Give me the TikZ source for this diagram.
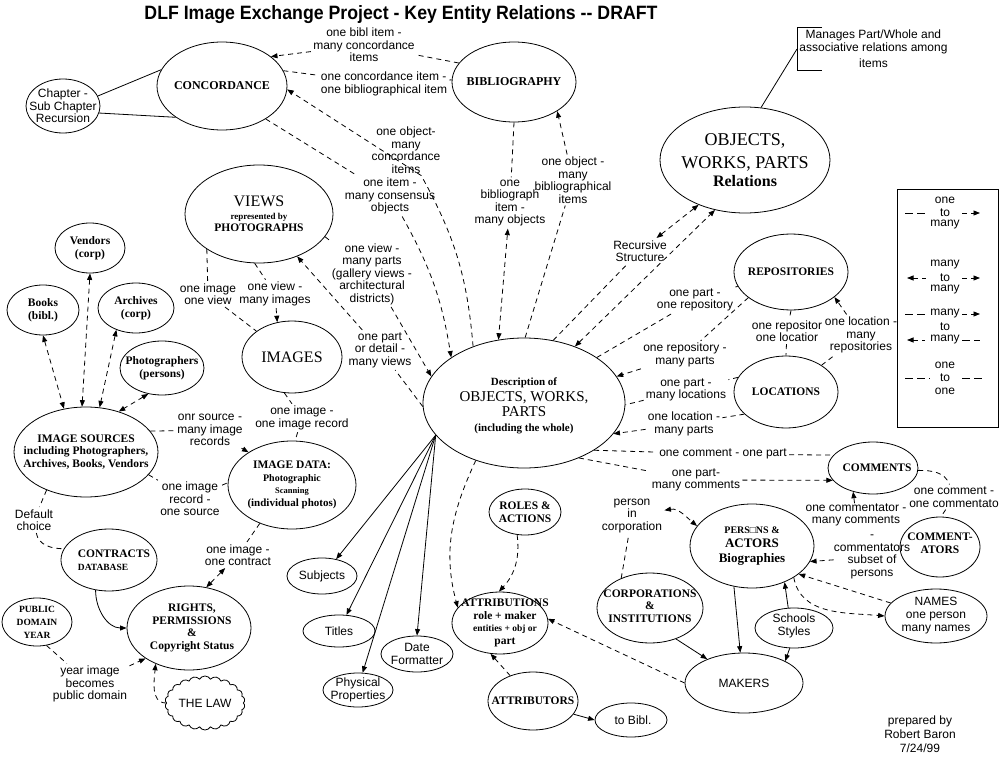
\documentclass[tikz,border=0pt]{standalone}
\usepackage{fontspec}
\setmainfont{Liberation Serif}
\setsansfont{Liberation Sans}
\usepackage{graphicx}
\usetikzlibrary{positioning,arrows.meta,shapes.geometric,shapes.symbols}
\tikzset{
  ent/.style ={ellipse, draw, line width=0.8pt, inner sep=0pt},
  etxt/.style={align=center, inner sep=0pt, font=\fontsize{11.5}{12.5}\selectfont\bfseries},
  stxt/.style={align=center, inner sep=0pt, font=\sffamily\fontsize{12}{12.5}\selectfont},
  lbl/.style ={stxt, inner sep=2pt},
  % dashed relation line; the tips show the "many" side
  dl/.style  ={line width=0.8pt, dash pattern=on 5pt off 4pt},
  >={Triangle[length=6.5pt,width=5pt]},
}
\newcommand{\fsz}[1]{\fontsize{#1}{#1}\selectfont}
% ellipse of fixed size with its text laid over it
\newcommand{\ent}[7][]{%
  \node[ent, minimum width=#5, minimum height=#6] (#2) at (#3,#4) {};
  \node[etxt,#1] (#2-t) at (#2) {#7};}

\begin{document}
\begin{tikzpicture}[x=1pt,y=1pt,line width=0.8pt]
\useasboundingbox (0,0) rectangle (999,-757);
\node (title) at (401,-15)
  {\resizebox{513pt}{14pt}{\sffamily\bfseries DLF Image Exchange Project - Key Entity Relations -{}- DRAFT}};

% entities
\ent{concord}{222}{-86}{130}{88}{\fsz{12}CONCORDANCE}
\ent[stxt]{chapter}{63}{-106}{74}{54}{Chapter -\\Sub Chapter\\Recursion}
\ent{bib}{514}{-82}{124}{80}{\fsz{12}BIBLIOGRAPHY}
\ent{rel}{745}{-160}{170}{106}{\fsz{18}\mdseries OBJECTS,\\[7pt]\fsz{18}\mdseries WORKS, PARTS\\[3pt]\fsz{16}Relations}
\ent{views}{259}{-214}{148}{98}{\fsz{16}\mdseries VIEWS\\\fsz{9}represented by\\\fsz{11.5}PHOTOGRAPHS}
\ent{images}{292}{-357}{100}{72}{\fsz{16}\mdseries IMAGES}
\ent{vendors}{90}{-248}{70}{50}{Vendors\\(corp)}
\ent{books}{43}{-310}{72}{50}{Books\\(bibl.)}
\ent{archives}{136}{-308}{76}{50}{Archives\\(corp)}
\ent{photog}{162}{-368}{84}{54}{Photographers\\(persons)}
\ent{imgsrc}{86}{-452}{144}{90}{IMAGE SOURCES\\including Photographers,\\Archives, Books, Vendors}
\ent{imgdata}{292}{-485}{128}{88}{IMAGE DATA:\\\fsz{10}Photographic\\\fsz{8.5}Scanning\\\fsz{11}(individual photos)}
\ent[align=left,xshift=5]{contracts}{109}{-560}{96}{62}{CONTRACTS\\\fsz{9.5}DATABASE}
\ent[font=\fontsize{9.5}{13}\selectfont\bfseries]{pubdom}{37}{-622}{70}{48}{PUBLIC\\DOMAIN\\YEAR}
\ent[xshift=3]{rights}{189}{-628}{124}{84}{RIGHTS,\\PERMISSIONS\\\&\\Copyright Status}
\node[cloud, draw, cloud puffs=22, cloud puff arc=120, cloud ignores aspect,
      minimum width=80, minimum height=54, inner sep=0pt] (law) at (205,-703) {};
\node[stxt] (law-t) at (law) {THE LAW};
\ent[yshift=-3]{desc}{524}{-403}{202}{130}{\fsz{11}Description of\\[3pt]\fsz{15}\mdseries OBJECTS, WORKS,\\[3pt]\fsz{15}\mdseries PARTS\\[2pt]\fsz{11}(including the whole)}
\ent{repos}{791}{-272}{114}{76}{REPOSITORIES}
\ent{locs}{786}{-392}{104}{72}{LOCATIONS}
\ent[xshift=4]{comments}{873}{-468}{90}{52}{COMMENTS}
\ent[yshift=4]{cmtators}{940}{-547}{80}{60}{COMMENT-\\ATORS}
\ent{persons}{752}{-546}{124}{84}{\fsz{10}PERS□NS \&\\[2pt]\fsz{13}ACTORS\\[2pt]\fsz{13}Biographies}
\ent[yshift=2]{corps}{650}{-608}{106}{70}{CORPORATIONS\\\&\\INSTITUTIONS}
\ent[stxt]{makers}{744}{-683}{118}{60}{MAKERS}
\ent[stxt,yshift=2]{schools}{794}{-628}{78}{40}{Schools\\Styles}
\ent[stxt,font=\sffamily\fontsize{12}{13}\selectfont]{names}{936}{-616}{102}{54}{NAMES\\one person\\many names}
\ent{roles}{525}{-512}{72}{46}{ROLES \&\\ACTIONS}
\ent[xshift=5]{attribs}{500}{-623}{96}{62}{ATTRIBUTIONS\\role + maker\\\fsz{9.5}entities + obj or\\part}
\ent{attribtrs}{533}{-701}{90}{58}{ATTRIBUTORS}
\ent[stxt,xshift=2]{tobibl}{631}{-720}{72}{34}{to Bibl.}
\ent[stxt]{subjects}{322}{-576}{70}{36}{Subjects}
\ent[stxt]{titles}{339}{-631}{72}{32}{Titles}
\ent[stxt]{datef}{417}{-654}{72}{36}{Date\\Formatter}
\ent[stxt]{physprop}{358}{-690}{70}{34}{Physical\\Properties}

% relation labels
\node[lbl] (l1) at (364,-45) {one bibl item -\\many concordance\\items};
\node[lbl,align=left] (l2) at (384,-84) {one concordance item -\\one bibliographical item};
\node[lbl] (l3) at (406,-150) {one object-\\many\\concordance\\items};
\node[lbl] (l4) at (390,-196) {one item -\\many consensus\\objects};
\node[lbl] (l5) at (510,-203) {one\\bibliograph\\item -\\many objects};
\node[lbl] (l6) at (573,-180) {one object -\\many\\bibliographical\\items};
\node[lbl] (l7) at (640,-251) {Recursive\\Structure};
\node[lbl] (l8) at (695,-300) {one part -\\one repository};
\node[lbl] (l9) at (685,-355) {one repository -\\many parts};
\node[lbl] (l10) at (787,-331) {one repositor\\one locatior};
\node[lbl] (l11) at (861,-335) {one location -\\many\\repositories};
\node[lbl] (l12) at (686,-390) {one part -\\many locations};
\node[lbl] (l13) at (684,-424) {one location -\\many parts};
\node[lbl] (l14) at (723,-454) {one comment - one part};
\node[lbl] (l15) at (696,-480) {one part-\\many comments};
\node[lbl] (l16) at (954,-497) {one comment -\\one commentato};
\node[lbl,inner sep=0pt] (l17a) at (856,-515) {one commentator -\\many comments};
\node[lbl,inner sep=0pt] (l17b) at (872,-557) {-\\commentators\\subset of\\persons};
\node[lbl] (l18) at (632,-516) {person\\in\\corporation};
\node[lbl] (l19) at (208,-294) {one image\\one view};
\node[lbl] (l20) at (275,-294) {one view -\\many images};
\node[lbl] (l21) at (372,-274) {one view -\\many parts\\(gallery views -\\architectural\\districts)};
\node[lbl] (l22) at (380,-350) {one part\\or detail -\\many views};
\node[lbl] (l23) at (302,-418) {one image -\\one image record};
\node[lbl] (l24) at (210,-430) {onr source -\\many image\\records};
\node[lbl] (l25) at (190,-499) {one image\\record -\\one source};
\node[lbl] (l26) at (34,-520) {Default\\choice};
\node[lbl] (l27) at (238,-555) {one image -\\one contract};
\node[lbl] (l28) at (90,-684) {year image\\becomes\\public domain};

% concordance and bibliography
\draw (chapter.16) -- (concord.165);
\draw (chapter.349) -- (concord.214);
\draw[dl,->] (bib.161) -- (l1) -- (concord.31);
\draw[dl] (concord.14) -- (l2) -- (bib.178);
\draw[dl,->] (desc.132) to[bend right=12] (l3) -- (concord.357);
\draw[dl,->] (concord.323) -- (l4) to[bend left=10] (desc.148);
\draw[dl,<->] (bib.270) -- (l5) -- (desc.112);
\draw[dl,->] (desc.89) -- (l6) -- (bib.326);

% part/whole relations
\node[stxt, anchor=west, inner xsep=2pt, minimum height=43] (note) at (797,-49)
  {Manages Part/Whole and\\associative relations among\\[4pt]items};
\draw ([xshift=25]note.north west) -- (note.north west) -- (note.south west) -- ([xshift=25]note.south west);
\draw (note.west) -- (rel.73);
\draw[dl,<->] (desc.65) -- (l7) -- (rel.224);
\draw[dl,<->] (desc.48) -- (rel.239);

% repositories and locations
\draw[dl] (desc.32) -- (l8) -- (repos.195);
\draw[dl,->] (repos.211) -- (l9) -- (desc.16);
\draw[dl] (repos.270) -- (l10) -- (locs.90);
\draw[dl,->] (locs.37) -- (l11) -- (repos.330);
\draw[dl] (locs.163) -- (l12) -- (desc.359);
\draw[dl,->] (locs.208) -- (l13) -- (desc.341);

% comments
\draw[dl] (desc.326) -- (l14) -- (comments.162);
\draw[dl,->] (desc.315) -- (l15) -- (comments.197);
\draw[dl] (comments.357) to[out=0,in=110] (l16) -- (cmtators.88);
\draw[dl,->] (l17a) -- (comments.230);
\draw[dl,->] (l17b) -- (persons.345);

% persons, makers, attributions
\draw[dl,<->] (corps.134) -- (l18) to[out=10,in=140] (persons.160);
\draw[->] (persons.246) -- (makers.97);
\draw[->] (schools.106) -- (persons.312);
\draw[->] (schools.258) -- (makers.28);
\draw[->] (corps.310) -- (makers.147);
\draw[dl,->] (names.164) -- (persons.329);
\draw[dl,->] (persons.323) to[out=-80,in=175] (names.180);
\draw[dl,->] (makers.180) -- (attribs.5);
\draw[dl,->] (roles.251) to[bend left=25] (attribs.92);
\draw[dl,->] (desc.230) to[out=245,in=105] (attribs.160);
\draw[dl,->] (attribtrs.132) -- (attribs.253);
\draw[->] (attribtrs.342) -- (tobibl.180);
\coordinate (fan) at (desc.200);
\foreach \t/\a in {subjects/50, titles/65, physprop/75, datef/90}
  \draw[->] (fan) -- (\t.\a);

% views and images
\draw[dl] (views.214) -- (l19) -- (images.144);
\draw[dl,->] (views.265) -- (l20) -- (images.113);
\draw[dl,->] (desc.182) -- (l22) -- (views.312);
\draw[dl,->] (views.341) -- (l21) -- (desc.164);
\draw[dl] (images.258) -- (l23) -- (imgdata.86);

% image sources, contracts, rights
\draw[dl,->] (imgsrc.18) -- (l24) -- (imgdata.143);
\draw[dl] (imgsrc.340) -- (l25) -- (imgdata.178);
\draw[dl] (imgsrc.224) -- (l26) to[out=-80,in=180] (contracts.166);
\foreach \s/\a/\b in {vendors/270/95, books/270/117, archives/228/73, photog/242/51}
  \draw[dl,<->] (\s.\a) -- (imgsrc.\b);
\draw[->] (contracts.246) to[out=-90,in=180] (rights.180);
\draw[dl,<->] (imgdata.230) -- (l27) -- (rights.67);
\draw[dl,->] (pubdom.292) -- (l28) -- (rights.215);
\draw[dl,->] (law.west) to[out=180,in=265] (rights.227);

% legend
\node[draw, minimum width=101, minimum height=238, anchor=north west, inner sep=0pt] (legend) at (897,-189) {};
\foreach \n/\y/\t in {lg1a/200/one, lg1b/213/to, lg1c/225/many,
                      lg2a/265/many, lg2b/278/to, lg2c/290/many,
                      lg3a/314/many, lg3b/327/to, lg3c/340/many,
                      lg4a/365/one, lg4b/378/to, lg4c/391/one}
  \node[stxt] (\n) at (945,-\y) {\t};
\draw[dl,dash pattern=on 8pt off 4pt] ([xshift=-40]lg1b.center) -- ([xshift=-20]lg1b.center);
\draw[dl,->] ([xshift=17]lg1b.center) -- ([xshift=35]lg1b.center);
\draw[dl,<-] ([xshift=-38]lg2b.center) -- ([xshift=-19]lg2b.center);
\draw[dl,->] ([xshift=17]lg2b.center) -- ([xshift=35]lg2b.center);
\draw[dl,dash pattern=on 8pt off 4pt] ([xshift=-40]lg3a.center) -- ([xshift=-20]lg3a.center);
\draw[dl,->] ([xshift=17]lg3a.center) -- ([xshift=35]lg3a.center);
\draw[dl,<-] ([xshift=-38]lg3c.center) -- ([xshift=-20]lg3c.center);
\draw[dl,dash pattern=on 8pt off 4pt] ([xshift=17]lg3c.center) -- ([xshift=35]lg3c.center);
\draw[dl,dash pattern=on 8pt off 4pt] ([xshift=-40]lg4b.center) -- ([xshift=-15]lg4b.center);
\draw[dl,dash pattern=on 8pt off 4pt] ([xshift=17]lg4b.center) -- ([xshift=37]lg4b.center);

\node[stxt, font=\sffamily\fontsize{12}{14}\selectfont] (prep) at (920,-734) {prepared by\\Robert Baron\\7/24/99};
\end{tikzpicture}
\end{document}
